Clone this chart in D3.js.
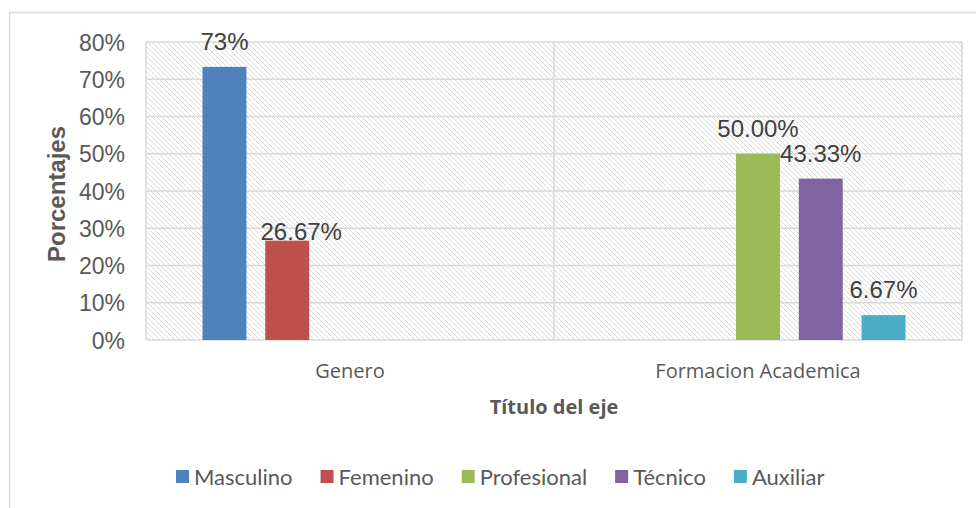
<!DOCTYPE html>
<html>
<head>
<meta charset="utf-8">
<script src="https://cdn.jsdelivr.net/npm/d3@7"></script>
<style>
  body { margin: 0; background: #fff; }
  svg { display: block; }
</style>
</head>
<body>
<div id="chart"></div>
<script>
// data
const categories = ["Genero", "Formacion Academica"];
const seriesNames = ["Masculino", "Femenino", "Profesional", "Técnico", "Auxiliar"];
// one row per series, one value per category (null = no bar)
const seriesValues = [
  [0.7333, null],
  [0.2667, null],
  [null, 0.50],
  [null, 0.4333],
  [null, 0.0667]
];
const dataLabels = ["73%", "26.67%", "50.00%", "43.33%", "6.67%"];
const yTicks = [0, 0.1, 0.2, 0.3, 0.4, 0.5, 0.6, 0.7, 0.8];

const colors = ["#4f81bd", "#c0504d", "#9bbb59", "#8064a2", "#4bacc6"];
// the Femenino label was dragged by hand in the original
const labelNudge = { "Femenino": [14, 16] };

const width = 976, height = 508;
const plot = { left: 146, right: 962, top: 42, bottom: 340 };

const svg = d3.select("#chart").append("svg")
  .attr("width", width)
  .attr("height", height);

// hatch fill for the plot area
const defs = svg.append("defs");
const pat = defs.append("pattern")
  .attr("id", "hatch")
  .attr("patternUnits", "userSpaceOnUse")
  .attr("width", 5).attr("height", 5);
pat.append("rect").attr("width", 5).attr("height", 5).attr("fill", "#fff");
pat.append("path")
  .attr("d", "M0,0 L5,5 M-1,4 L1,6 M4,-1 L6,1")
  .attr("stroke", "#dadada")
  .attr("stroke-width", 1);

// chart area border
svg.append("rect")
  .attr("x", 9.5).attr("y", 12.5)
  .attr("width", 990).attr("height", 520)
  .attr("fill", "none")
  .attr("stroke", "#d9d9d9")
  .attr("stroke-width", 1.5);

const x0 = d3.scaleBand()
  .domain(categories)
  .range([plot.left, plot.right]);

const x1 = d3.scaleBand()
  .domain(seriesNames)
  .range([0, x0.bandwidth()])
  .paddingInner(0.3)
  .paddingOuter(0.9);

const y = d3.scaleLinear()
  .domain([0, 0.8])
  .range([plot.bottom, plot.top]);

svg.append("rect")
  .attr("x", plot.left).attr("y", plot.top)
  .attr("width", plot.right - plot.left)
  .attr("height", plot.bottom - plot.top)
  .attr("fill", "url(#hatch)");

// horizontal gridlines
svg.append("g")
  .selectAll("line")
  .data(yTicks)
  .join("line")
  .attr("x1", plot.left).attr("x2", plot.right)
  .attr("y1", d => y(d)).attr("y2", d => y(d))
  .attr("stroke", "#d9d9d9")
  .attr("stroke-width", 1.5);

// vertical lines at category boundaries
const bounds = categories.map(c => x0(c)).concat([plot.right]);
svg.append("g")
  .selectAll("line")
  .data(bounds)
  .join("line")
  .attr("x1", d => d).attr("x2", d => d)
  .attr("y1", plot.top).attr("y2", plot.bottom)
  .attr("stroke", "#d9d9d9")
  .attr("stroke-width", 1.5);

// y axis labels
const yAxis = d3.axisLeft(y)
  .tickValues(yTicks)
  .tickFormat(d3.format(".0%"))
  .tickSize(0)
  .tickPadding(0);

const gy = svg.append("g")
  .attr("transform", "translate(125,0)")
  .call(yAxis);
gy.select(".domain").remove();
gy.selectAll("text")
  .attr("font-family", "'Liberation Sans', Arial, sans-serif")
  .attr("font-size", 23)
  .attr("fill", "#595959")
  .attr("dy", "0.35em");

// x axis labels
const xAxis = d3.axisBottom(x0).tickSize(0).tickPadding(0);
const gx = svg.append("g")
  .attr("transform", "translate(0,378)")
  .call(xAxis);
gx.select(".domain").remove();
gx.selectAll("text")
  .attr("font-family", "'Open Sans', sans-serif")
  .attr("font-size", 20)
  .attr("fill", "#595959")
  .attr("dy", 0);

// bars
const bars = [];
seriesNames.forEach((s, i) => {
  categories.forEach((c, j) => {
    const v = seriesValues[i][j];
    if (v != null) bars.push({ series: s, cat: c, value: v, label: dataLabels[i], color: colors[i] });
  });
});

svg.append("g")
  .selectAll("rect")
  .data(bars)
  .join("rect")
  .attr("x", d => x0(d.cat) + x1(d.series))
  .attr("y", d => y(d.value))
  .attr("width", x1.bandwidth())
  .attr("height", d => y(0) - y(d.value))
  .attr("fill", d => d.color);

svg.append("g")
  .selectAll("text")
  .data(bars)
  .join("text")
  .attr("x", d => x0(d.cat) + x1(d.series) + x1.bandwidth() / 2 + (labelNudge[d.series] ? labelNudge[d.series][0] : 0))
  .attr("y", d => y(d.value) - 17 + (labelNudge[d.series] ? labelNudge[d.series][1] : 0))
  .attr("text-anchor", "middle")
  .attr("font-family", "'Liberation Sans', Arial, sans-serif")
  .attr("font-size", 24)
  .attr("fill", "#404040")
  .text(d => d.label);

// axis titles
svg.append("text")
  .attr("transform", "translate(65,194) rotate(-90)")
  .attr("text-anchor", "middle")
  .attr("font-family", "'Liberation Sans', Arial, sans-serif")
  .attr("font-weight", "bold")
  .attr("font-size", 24)
  .attr("fill", "#595959")
  .text("Porcentajes");

svg.append("text")
  .attr("x", 554)
  .attr("y", 414)
  .attr("text-anchor", "middle")
  .attr("font-family", "'Open Sans', sans-serif")
  .attr("font-weight", "bold")
  .attr("font-size", 20)
  .attr("fill", "#595959")
  .text("Título del eje");

// legend
const legend = svg.append("g").attr("transform", "translate(176,477)");
let lx = 0;
seriesNames.forEach((s, i) => {
  const item = legend.append("g").attr("transform", `translate(${lx},0)`);
  item.append("rect")
    .attr("x", 0).attr("y", -7)
    .attr("width", 13).attr("height", 13)
    .attr("fill", colors[i]);
  const t = item.append("text")
    .attr("x", 18).attr("y", 8)
    .attr("font-family", "Lato, sans-serif")
    .attr("font-size", 22)
    .attr("fill", "#595959")
    .text(s);
  lx += 18 + t.node().getComputedTextLength() + 28;
});
</script>
</body>
</html>
